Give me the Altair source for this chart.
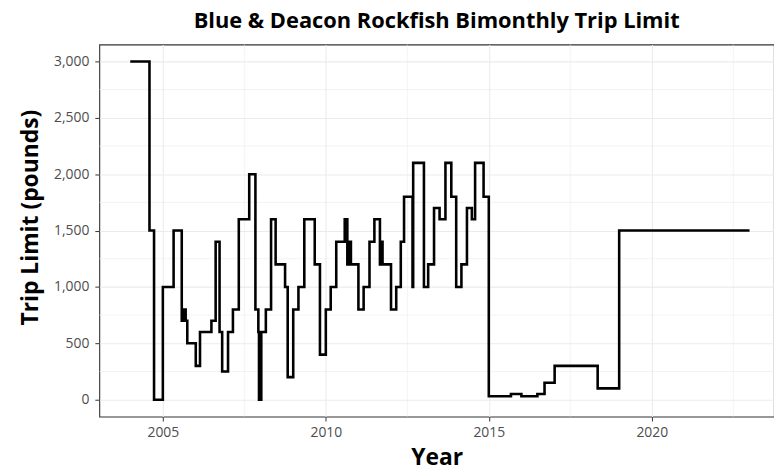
import altair as alt
import pandas as pd

# Step change dates (decimal years) and trip limit values (pounds)
years = [2004.0, 2004.59, 2004.73, 2005.0, 2005.33, 2005.58, 2005.64, 2005.70, 2005.75,
         2006.01, 2006.14, 2006.49, 2006.62, 2006.74, 2006.82, 2007.0, 2007.15, 2007.33,
         2007.65, 2007.84, 2007.93, 2007.95, 2008.02, 2008.16, 2008.32, 2008.46, 2008.75,
         2008.83, 2009.0, 2009.16, 2009.34, 2009.66, 2009.82, 2010.0, 2010.15, 2010.32,
         2010.58, 2010.66, 2010.72, 2010.77, 2011.0, 2011.16, 2011.34, 2011.49, 2011.66,
         2011.70, 2011.74, 2011.78, 2012.0, 2012.16, 2012.30, 2012.40, 2012.66, 2012.68,
         2013.01, 2013.14, 2013.32, 2013.49, 2013.67, 2013.85, 2014.0, 2014.16, 2014.33,
         2014.48, 2014.58, 2014.84, 2015.0, 2015.68, 2016.0, 2016.49, 2016.71, 2017.02,
         2018.34, 2019.0, 2023.0]
limits = [3000, 1500, 0, 1000, 1500, 700, 800, 700, 500,
          300, 600, 700, 1400, 600, 250, 600, 800, 1600,
          2000, 800, 600, 0, 600, 800, 1600, 1200, 1000,
          200, 800, 1000, 1600, 1200, 400, 800, 1000, 1400,
          1600, 1200, 1400, 1200, 800, 1000, 1400, 1600, 1200,
          1400, 1200, 1200, 800, 1000, 1400, 1800, 1000, 2100,
          1000, 1200, 1700, 1600, 2100, 1800, 1000, 1200, 1700,
          1600, 2100, 1800, 30, 50, 30, 50, 150, 300,
          100, 1500, 1500]

x_ticks = [2005, 2010, 2015, 2020]
y_ticks = [0, 500, 1000, 1500, 2000, 2500, 3000]
x_minor = [2007.5, 2012.5, 2017.5, 2022.5]
y_minor = [250, 750, 1250, 1750, 2250, 2750]

df = pd.DataFrame({"Year": years, "Limit": limits})
xm = pd.DataFrame({"Year": x_minor})
ym = pd.DataFrame({"Limit": y_minor})

XDOM = [2003.05, 2023.75]
YDOM = [-150, 3150]
FONT = "Open Sans"

xscale = alt.Scale(domain=XDOM, nice=False, zero=False)
yscale = alt.Scale(domain=YDOM, nice=False, zero=False)

xaxis = alt.Axis(values=x_ticks, format="d", grid=True, gridColor="#EBEBEB",
                 gridWidth=1.1, tickColor="#333333", tickSize=4.5, tickWidth=1,
                 domain=False, labelColor="#4D4D4D", labelFontSize=14,
                 labelFont=FONT, labelPadding=5, titleFont=FONT,
                 titleFontSize=23, titleFontWeight="bold", titleColor="black",
                 titleBaseline="alphabetic", titleY=48)
yaxis = alt.Axis(values=y_ticks, format=",d", grid=True, gridColor="#EBEBEB",
                 gridWidth=1.1, tickColor="#333333", tickSize=4.5, tickWidth=1,
                 domain=False, labelColor="#4D4D4D", labelFontSize=14,
                 labelFont=FONT, labelPadding=6, titleFont=FONT,
                 titleFontSize=23, titleFontWeight="bold", titleColor="black",
                 titleBaseline="alphabetic", titleAngle=270, titleX=-62, titleY=174)

line = alt.Chart(df).mark_line(color="black", strokeWidth=2.6, interpolate="step-after",
                               clip=True).encode(
    x=alt.X("Year:Q", scale=xscale, title="Year", axis=xaxis),
    y=alt.Y("Limit:Q", scale=yscale, title="Trip Limit (pounds)", axis=yaxis),
)

grid_x = alt.Chart(xm).mark_rule(color="#EBEBEB", strokeWidth=0.6).encode(
    x=alt.X("Year:Q", scale=xscale, title="Year", axis=xaxis))
grid_y = alt.Chart(ym).mark_rule(color="#EBEBEB", strokeWidth=0.6).encode(
    y=alt.Y("Limit:Q", scale=yscale, title="Trip Limit (pounds)", axis=yaxis))

chart = alt.layer(grid_x, grid_y, line).properties(
    width=680, height=375,
    title=alt.TitleParams("Blue & Deacon Rockfish Bimonthly Trip Limit", font=FONT,
                          fontSize=22, fontWeight="bold", color="black",
                          anchor="middle", offset=11),
    autosize=alt.AutoSizeParams(type="none"),
    padding={"left": 92, "top": 35, "right": 0, "bottom": 50},
).configure(background="white",
            view=alt.ViewConfig(stroke="#333333", strokeWidth=1.1))

chart.save("out.html", embed_options={"renderer": "svg", "actions": False})
